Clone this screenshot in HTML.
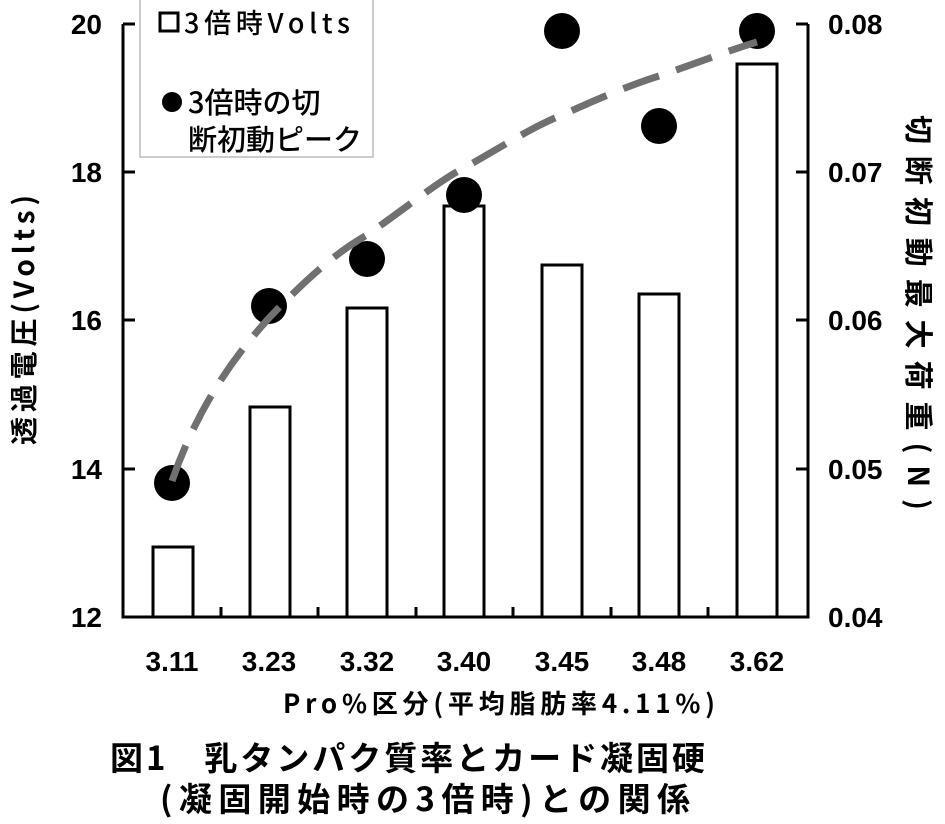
<!DOCTYPE html>
<html><head><meta charset="utf-8"><style>
body{margin:0;background:#fff}
svg text{font-family:"Liberation Sans","Noto Sans CJK JP",sans-serif;fill:#000}
svg .j{font-family:"Noto Sans CJK JP",sans-serif}
</style></head><body>
<svg width="945" height="819" viewBox="0 0 945 819" xmlns="http://www.w3.org/2000/svg">
<rect width="945" height="819" fill="#fff"/>
<g stroke="#000" stroke-width="3" fill="#fff">
<rect x="153" y="547" width="40" height="70"/>
<rect x="250" y="407" width="40" height="210"/>
<rect x="347" y="308" width="40" height="309"/>
<rect x="444" y="206" width="40" height="411"/>
<rect x="542" y="265" width="40" height="352"/>
<rect x="639" y="294" width="40" height="323"/>
<rect x="737" y="64" width="40" height="553"/>
</g>
<g stroke="#000" stroke-width="3" fill="none">
<path d="M123 24 V617 H808 V24"/>
<path d="M123 24h12M123 172h12M123 320h12M123 469h12"/>
<path d="M808 24h-12M808 172h-12M808 320h-12M808 469h-12"/>
<path d="M221 617v-10M318 617v-10M416 617v-10M513 617v-10M611 617v-10M708 617v-10"/>
</g>
<g fill="#000">
<circle cx="172" cy="483" r="18"/><circle cx="269" cy="306" r="18"/>
<circle cx="367" cy="259" r="18"/><circle cx="464" cy="195" r="18"/>
<circle cx="562" cy="31" r="18"/><circle cx="659" cy="126" r="18"/>
<circle cx="757" cy="31" r="18"/>
</g>
<path d="M172 481 C200 400,240 350,269 318 C310 275,340 250,367 235 C410 205,440 180,464 168 C500 148,530 128,562 115 C600 98,630 85,659 76 C700 62,730 50,757 42" fill="none" stroke="#707070" stroke-width="7" stroke-dasharray="38,18"/>
<rect x="140" y="-2" width="233" height="159" fill="#fff" stroke="#bbb" stroke-width="1.5"/>
<rect x="160" y="13" width="18" height="18" fill="none" stroke="#000" stroke-width="3"/>
<text x="184" y="33" font-size="27" class="j" font-weight="500" textLength="166">3倍時Volts</text>
<circle cx="172" cy="102" r="10" fill="#000"/>
<text x="188" y="113" font-size="29" class="j" font-weight="500">3倍時の切</text>
<text x="188" y="150" font-size="29" class="j" font-weight="500">断初動ピーク</text>
<g font-size="28" font-weight="bold" text-anchor="end">
<text x="102" y="34">20</text><text x="102" y="182">18</text><text x="102" y="330">16</text><text x="102" y="479">14</text><text x="102" y="627">12</text>
</g>
<g font-size="28" font-weight="bold">
<text x="828" y="34">0.08</text><text x="828" y="182">0.07</text><text x="828" y="330">0.06</text><text x="828" y="479">0.05</text><text x="828" y="627">0.04</text>
</g>
<g font-size="28" font-weight="bold" text-anchor="middle">
<text x="172" y="671">3.11</text><text x="269" y="671">3.23</text><text x="367" y="671">3.32</text><text x="464" y="671">3.40</text><text x="562" y="671">3.45</text><text x="659" y="671">3.48</text><text x="757" y="671">3.62</text>
</g>
<text x="283" y="713" font-size="26" class="j" font-weight="bold" textLength="432">Pro%区分(平均脂肪率4.11%)</text>
<text x="110" y="770" font-size="33" class="j" font-weight="bold" textLength="595">図1　乳タンパク質率とカード凝固硬</text>
<text x="160" y="811" font-size="33" class="j" font-weight="bold" textLength="530">(凝固開始時の3倍時)との関係</text>
<text transform="translate(34 445) rotate(-90)" font-size="28" class="j" font-weight="bold" textLength="250">透過電圧(Volts)</text>
<text transform="translate(908 115) rotate(90)" font-size="29" class="j" font-weight="bold" textLength="395">切断初動最大荷重(N)</text>
</svg>
</body></html>
